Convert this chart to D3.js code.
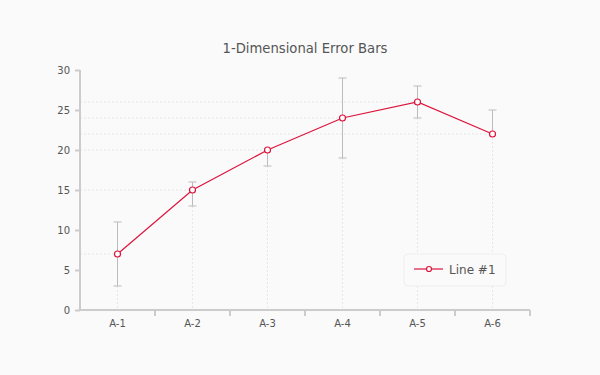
<!DOCTYPE html>
<html lang="en">
<head>
  <meta charset="UTF-8" />
  <title>1-Dimensional Error Bars</title>
  <style>
    html, body { margin: 0; padding: 0; background: #fafafa; }
    svg { display: block; font-family: "DejaVu Sans", Verdana, sans-serif; }
  </style>
</head>
<body>
  <script src="https://d3js.org/d3.v7.min.js"></script>
  <script>
    // Data
    const categories = ['A-1', 'A-2', 'A-3', 'A-4', 'A-5', 'A-6'];
    const values = [7, 15, 20, 24, 26, 22];
    const errLow = [3, 13, 18, 19, 24, 22];
    const errHigh = [11, 16, 20, 29, 28, 25];
    const yTicks = [0, 5, 10, 15, 20, 25, 30];
    const seriesName = 'Line #1';

    const width = 600, height = 375;
    const margin = { top: 70, right: 70, bottom: 65, left: 80 };
    const lineColor = '#dc143c';
    const textColor = '#555';
    const axisColor = '#ccc';

    const svg = d3.select('body').append('svg')
      .attr('width', width)
      .attr('height', height);

    svg.append('rect')
      .attr('width', width)
      .attr('height', height)
      .attr('fill', '#fafafa');

    // Title
    svg.append('text')
      .attr('x', 305)
      .attr('y', 53)
      .attr('text-anchor', 'middle')
      .attr('font-size', '13.2px')
      .attr('fill', textColor)
      .text('1-Dimensional Error Bars');

    const x = d3.scaleBand()
      .domain(categories)
      .range([margin.left, width - margin.right]);

    const y = d3.scaleLinear()
      .domain([0, 30])
      .range([height - margin.bottom, margin.top]);

    const cx = d => x(d) + x.bandwidth() / 2;
    const points = categories.map((c, i) => ({ c, v: values[i], lo: errLow[i], hi: errHigh[i] }));

    // Crosshair-style dotted guides from each point to the axes
    const guides = svg.append('g').attr('class', 'guides');
    guides.selectAll('line.h')
      .data(points)
      .enter().append('line')
      .attr('class', 'h')
      .attr('x1', margin.left)
      .attr('x2', d => cx(d.c))
      .attr('y1', d => y(d.v))
      .attr('y2', d => y(d.v))
      .attr('stroke', '#e6e6e6')
      .attr('stroke-width', 1)
      .attr('stroke-dasharray', '2,2');

    guides.selectAll('line.v')
      .data(points)
      .enter().append('line')
      .attr('class', 'v')
      .attr('x1', d => cx(d.c))
      .attr('x2', d => cx(d.c))
      .attr('y1', d => y(d.v))
      .attr('y2', y(0))
      .attr('stroke', '#e6e6e6')
      .attr('stroke-width', 1)
      .attr('stroke-dasharray', '2,2');

    // Y axis
    const yAxis = svg.append('g')
      .attr('transform', `translate(${margin.left},0)`)
      .call(d3.axisLeft(y).tickValues(yTicks).tickSize(5).tickPadding(5));

    // X axis
    const xAxis = svg.append('g')
      .attr('transform', `translate(0,${y(0)})`)
      .call(d3.axisBottom(x).tickSize(0).tickPadding(10));

    // x ticks sit on the band boundaries
    xAxis.selectAll('.edge')
      .data(categories)
      .enter().append('line')
      .attr('class', 'edge')
      .attr('x1', d => x(d) + x.bandwidth())
      .attr('x2', d => x(d) + x.bandwidth())
      .attr('y1', 0)
      .attr('y2', 6)
      .attr('stroke', axisColor)
      .attr('stroke-width', 2);

    [yAxis, xAxis].forEach(ax => {
      ax.select('.domain').attr('stroke', axisColor).attr('stroke-width', 2);
      ax.selectAll('.tick line').attr('stroke', axisColor).attr('stroke-width', 2);
      ax.selectAll('.tick text').attr('fill', textColor).attr('font-size', '10px')
        .attr('font-family', '"DejaVu Sans", Verdana, sans-serif');
    });
    yAxis.select('.domain').attr('d', `M0,${y(0)}V${y(30)}`);
    xAxis.select('.domain').attr('d', `M${margin.left},0H${width - margin.right}`);

    // Error bars
    const capW = 4;
    const errG = svg.append('g').attr('class', 'errors')
      .selectAll('g')
      .data(points)
      .enter().append('g')
      .attr('stroke', '#bbb')
      .attr('stroke-width', 1);

    errG.append('line')
      .attr('x1', d => cx(d.c)).attr('x2', d => cx(d.c))
      .attr('y1', d => y(d.lo)).attr('y2', d => y(d.hi));
    errG.filter(d => d.hi > d.v).append('line')
      .attr('x1', d => cx(d.c) - capW).attr('x2', d => cx(d.c) + capW)
      .attr('y1', d => y(d.hi)).attr('y2', d => y(d.hi));
    errG.filter(d => d.lo < d.v).append('line')
      .attr('x1', d => cx(d.c) - capW).attr('x2', d => cx(d.c) + capW)
      .attr('y1', d => y(d.lo)).attr('y2', d => y(d.lo));

    // Line + markers
    const line = d3.line()
      .x(d => cx(d.c))
      .y(d => y(d.v));

    svg.append('path')
      .datum(points)
      .attr('d', line)
      .attr('fill', 'none')
      .attr('stroke', lineColor)
      .attr('stroke-width', 1.2);

    svg.append('g')
      .selectAll('circle')
      .data(points)
      .enter().append('circle')
      .attr('cx', d => cx(d.c))
      .attr('cy', d => y(d.v))
      .attr('r', 3)
      .attr('fill', '#fff')
      .attr('stroke', lineColor)
      .attr('stroke-width', 1.2);

    // Legend
    const legend = svg.append('g').attr('transform', 'translate(404,254)');
    legend.append('rect')
      .attr('width', 102)
      .attr('height', 32)
      .attr('rx', 4)
      .attr('fill', '#fafafa')
      .attr('stroke', '#eee');
    legend.append('line')
      .attr('x1', 10).attr('x2', 39)
      .attr('y1', 15).attr('y2', 15)
      .attr('stroke', lineColor)
      .attr('stroke-width', 1.2);
    legend.append('circle')
      .attr('cx', 25).attr('cy', 15).attr('r', 2.5)
      .attr('fill', '#fff')
      .attr('stroke', lineColor)
      .attr('stroke-width', 1.2);
    legend.append('text')
      .attr('x', 45)
      .attr('y', 20)
      .attr('font-size', '12px')
      .attr('fill', textColor)
      .text(seriesName);
  </script>
</body>
</html>
